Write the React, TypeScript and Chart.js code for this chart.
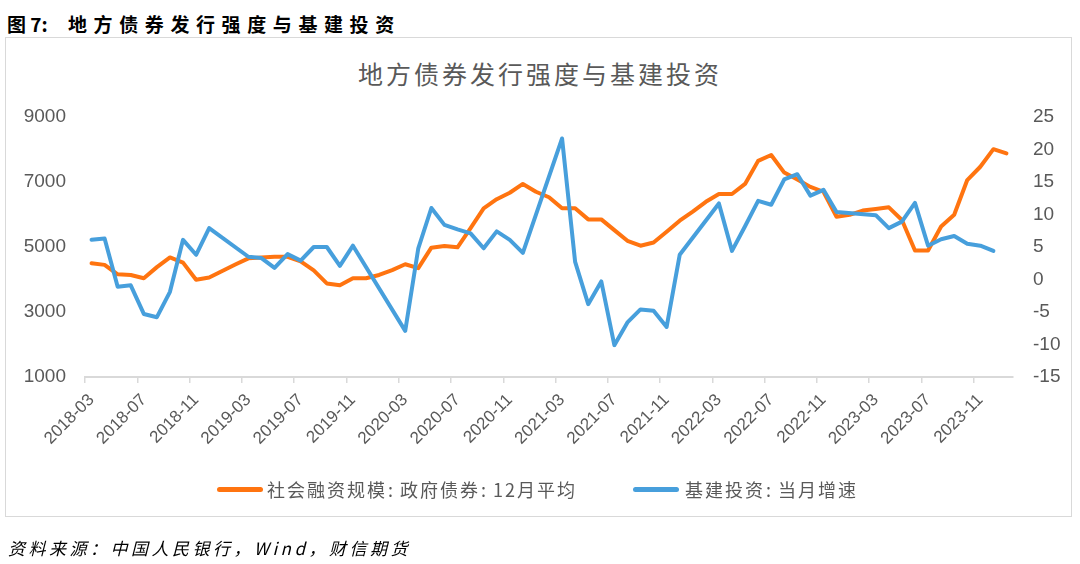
import React, { useEffect, useRef } from 'react';
import { Chart, registerables } from 'chart.js';

Chart.register(...registerables);

const months: string[] = [
  '2018-03', '2018-04', '2018-05', '2018-06', '2018-07', '2018-08', '2018-09', '2018-10', '2018-11', '2018-12',
  '2019-01', '2019-02', '2019-03', '2019-04', '2019-05', '2019-06', '2019-07', '2019-08', '2019-09', '2019-10', '2019-11', '2019-12',
  '2020-01', '2020-02', '2020-03', '2020-04', '2020-05', '2020-06', '2020-07', '2020-08', '2020-09', '2020-10', '2020-11', '2020-12',
  '2021-01', '2021-02', '2021-03', '2021-04', '2021-05', '2021-06', '2021-07', '2021-08', '2021-09', '2021-10', '2021-11', '2021-12',
  '2022-01', '2022-02', '2022-03', '2022-04', '2022-05', '2022-06', '2022-07', '2022-08', '2022-09', '2022-10', '2022-11', '2022-12',
  '2023-01', '2023-02', '2023-03', '2023-04', '2023-05', '2023-06', '2023-07', '2023-08', '2023-09', '2023-10', '2023-11', '2023-12',
  '2024-01',
];

// 社会融资规模:政府债券:12月平均 (left axis)
const govBond12mAvg: number[] = [
  4500, 4450, 4160, 4140, 4040, 4380, 4680, 4520, 3990, 4060,
  4260, 4460, 4650, 4680, 4700, 4700, 4560, 4280, 3880, 3820, 4040, 4040,
  4140, 4290, 4470, 4350, 4980, 5030, 4990, 5580, 6190, 6470, 6670, 6940,
  6700, 6530, 6190, 6190, 5850, 5850, 5520, 5190, 5040, 5140, 5470, 5810,
  6090, 6390, 6630, 6630, 6940, 7650, 7830, 7290, 7080, 6850, 6700, 5930,
  5990, 6120, 6170, 6220, 5830, 4890, 4890, 5630, 5990, 7060, 7470, 8010,
  7880,
];

// 基建投资:当月增速 (right axis)
const infraYoY: (number | null)[] = [
  6.1, 6.3, -1.1, -0.9, -5.3, -5.8, -1.9, 6.1, 3.8, 7.9,
  null, null, 3.5, 3.3, 1.8, 3.9, 2.9, 5.0, 5.0, 2.1, 5.2, null,
  null, null, -7.9, 4.8, 11.0, 8.4, 7.7, 7.1, 4.8, 7.4, 6.1, 4.1,
  null, null, 21.7, 2.7, -3.8, -0.3, -10.1, -6.6, -4.6, -4.8, -7.3, 3.8,
  null, null, 11.7, 4.4, 8.2, 12.1, 11.5, 15.4, 16.2, 12.9, 13.8, 10.4,
  null, null, 9.9, 7.9, 8.9, 11.8, 5.2, 6.2, 6.7, 5.5, 5.2, 4.4,
  null,
];

const leftTicks = { min: 1000, max: 9000, step: 2000 };
const rightTicks = { min: -15, max: 25, step: 5 };

const seriesNames = ['社会融资规模:政府债券:12月平均', '基建投资:当月增速'];

const ORANGE = '#FF7410';
const BLUE = '#479FDC';
const AXIS_GRAY = '#d9d9d9';
const TEXT_GRAY = '#595959';
const CJK = '"Noto Sans CJK SC", "Noto Sans", sans-serif';
const LATIN = '"Liberation Sans", Arial, sans-serif';

function LegendText({ text, left }: { text: string; left: number }) {
  const parts = text.split(':');
  return (
    <div
      style={{
        position: 'absolute', left, top: 478, fontFamily: CJK, fontSize: 18, lineHeight: '22px',
        color: TEXT_GRAY, letterSpacing: 2, whiteSpace: 'nowrap',
      }}
    >
      {parts.map((p, i) => (
        <React.Fragment key={i}>
          {i > 0 ? <span style={{ marginLeft: 1, marginRight: 5 }}>:</span> : null}
          {p}
        </React.Fragment>
      ))}
    </div>
  );
}

export default function App() {
  const canvasRef = useRef<HTMLCanvasElement | null>(null);

  useEffect(() => {
    const canvas = canvasRef.current;
    if (!canvas) return;
    const tickVisible = (i: number) => i % 4 === 0;
    const chart = new Chart(canvas, {
      type: 'line',
      data: {
        labels: months,
        datasets: [
          {
            label: seriesNames[0],
            data: govBond12mAvg,
            borderColor: ORANGE,
            backgroundColor: ORANGE,
            borderWidth: 4,
            pointRadius: 0,
            tension: 0,
            borderJoinStyle: 'round',
            borderCapStyle: 'round',
            yAxisID: 'y',
            order: 2,
          },
          {
            label: seriesNames[1],
            data: infraYoY,
            borderColor: BLUE,
            backgroundColor: BLUE,
            borderWidth: 4,
            pointRadius: 0,
            tension: 0,
            spanGaps: true,
            borderJoinStyle: 'round',
            borderCapStyle: 'round',
            yAxisID: 'y1',
            order: 1,
          },
        ],
      },
      options: {
        animation: false,
        responsive: false,
        events: [],
        layout: { padding: { left: 0, right: 0, top: 117, bottom: 0 } },
        plugins: {
          legend: { display: false },
          title: { display: false },
          tooltip: { enabled: false },
        },
        scales: {
          x: {
            type: 'category',
            offset: true,
            grid: {
              display: true,
              drawOnChartArea: false,
              drawTicks: true,
              tickLength: 6,
              offset: true,
              lineWidth: 1.5,
              color: (ctx: any) => (tickVisible(ctx.index) ? AXIS_GRAY : 'rgba(0,0,0,0)'),
              tickColor: (ctx: any) => (tickVisible(ctx.index) ? AXIS_GRAY : 'rgba(0,0,0,0)'),
            },
            border: { display: true, color: AXIS_GRAY, width: 2 },
            ticks: {
              autoSkip: false,
              minRotation: 45,
              maxRotation: 45,
              padding: 7,
              color: TEXT_GRAY,
              font: { family: LATIN, size: 17 },
              callback: function (this: any, value: any, index: number) {
                return tickVisible(index) ? this.getLabelForValue(value) : '';
              },
            },
            afterFit: (scale: any) => {
              scale.height = 564 - 377;
            },
          },
          y: {
            position: 'left',
            min: leftTicks.min,
            max: leftTicks.max,
            grid: { display: false, drawTicks: false },
            border: { display: false },
            ticks: {
              stepSize: leftTicks.step,
              padding: 19,
              color: TEXT_GRAY,
              font: { family: LATIN, size: 19 },
              callback: (v: any) => String(v),
            },
            afterFit: (scale: any) => {
              scale.width = 85;
            },
          },
          y1: {
            position: 'right',
            min: rightTicks.min,
            max: rightTicks.max,
            grid: { display: false, drawTicks: false },
            border: { display: false },
            ticks: {
              stepSize: rightTicks.step,
              padding: 20,
              color: TEXT_GRAY,
              font: { family: LATIN, size: 19 },
              callback: (v: any) => String(v),
            },
            afterFit: (scale: any) => {
              scale.width = 1080 - 1013;
            },
          },
        },
      },
    } as any);
    return () => {
      chart.destroy();
    };
  }, []);

  return (
    <div style={{ position: 'absolute', left: 0, top: 0, width: 1080, height: 564, background: '#fff', overflow: 'hidden' }}>
      <div
        style={{
          position: 'absolute', left: 7, top: 13, fontFamily: CJK, fontWeight: 700, fontSize: 19,
          lineHeight: '22px', color: '#000', whiteSpace: 'nowrap',
        }}
      >
        <span>图 7:</span>
        <span style={{ position: 'absolute', left: 61, letterSpacing: 6.6 }}>地方债券发行强度与基建投资</span>
      </div>
      <div
        style={{
          position: 'absolute', left: 5, top: 37, width: 1067, height: 480,
          border: '1.5px solid #d9d9d9', boxSizing: 'border-box',
        }}
      />
      <div
        style={{
          position: 'absolute', left: 0, top: 57, width: 1080, textAlign: 'center', fontFamily: CJK,
          fontSize: 25, lineHeight: '32px', color: TEXT_GRAY, letterSpacing: 3, whiteSpace: 'nowrap',
        }}
      >
        地方债券发行强度与基建投资
      </div>
      <canvas ref={canvasRef} width={1080} height={564} style={{ position: 'absolute', left: 0, top: 0, width: 1080, height: 564 }} />
      <div style={{ position: 'absolute', left: 217, top: 487, width: 46, height: 5, borderRadius: 3, background: ORANGE }} />
      <LegendText text={seriesNames[0]} left={267} />
      <div style={{ position: 'absolute', left: 633, top: 487, width: 46, height: 5, borderRadius: 3, background: BLUE }} />
      <LegendText text={seriesNames[1]} left={685} />
      <div
        style={{
          position: 'absolute', left: 8, top: 537, fontFamily: CJK, fontStyle: 'italic', fontSize: 17,
          lineHeight: '22px', color: '#000', letterSpacing: 3.5, whiteSpace: 'nowrap',
        }}
      >
        资料来源：中国人民银行，Wind，财信期货
      </div>
    </div>
  );
}
